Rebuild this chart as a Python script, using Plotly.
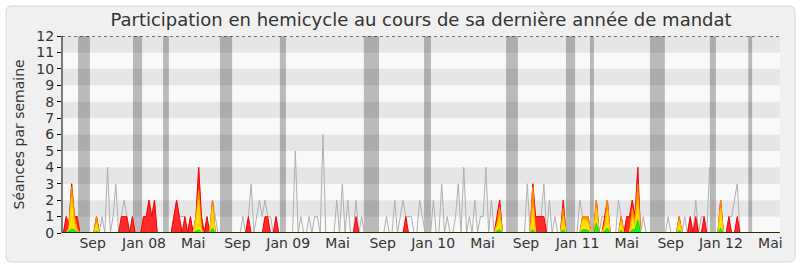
import plotly.graph_objects as go

# ---------------- data (weekly, 260 weeks of the legislature) ----------------
weeks = list(range(260))

# grey line: number of sessions in the week
seances = [
    0, 1, 0.5, 3, 1, 1, 0, 0, 0, 0, 0, 0, 1, 0, 1, 0, 4, 0, 1, 3,
    0, 1, 2, 1, 0, 1, 0, 0, 0, 1, 1, 2, 1, 2, 0, 0, 0, 0, 0, 0,
    1, 2, 1, 1, 1, 0, 1, 0, 1, 4, 1, 0, 1, 0, 2, 1, 0, 0, 0, 0,
    0, 0, 0, 0, 0, 1, 0, 1, 3, 0, 1, 2, 1, 2, 1, 1, 0, 1, 0, 0,
    0, 0, 0, 0, 5, 0, 1, 0, 0, 1, 0, 1, 1, 0, 6, 0, 0, 0, 0, 2,
    0, 3, 0, 2, 0, 0, 2, 0, 1, 0, 0, 0, 0, 0, 0, 0, 0, 1, 0, 0,
    2, 0, 1, 2, 1, 1, 1, 0, 0, 2, 1, 0, 0, 0, 2, 0, 0, 3, 0, 1,
    0, 0, 1, 3, 0, 4, 0, 1, 0, 2, 0, 1, 1, 4, 0, 2, 0, 1, 2, 0,
    0, 0, 0, 0, 0, 0, 0, 0, 3, 0, 3, 1, 1, 1, 3, 0, 2, 0, 1, 0,
    0, 2, 0, 0, 0, 0, 0, 2, 1, 1, 1, 0, 0, 2, 0, 1, 1, 2, 0, 0,
    0, 2, 1, 0, 1, 1, 2, 1, 4, 0, 1, 0, 0, 0, 0, 0, 0, 0, 0, 1,
    0, 0, 0, 1, 0, 1, 0, 1, 0, 2, 0, 1, 1, 0, 4, 0, 0, 0, 2, 0,
    0, 1, 1, 2, 3, 0, 0, 0, 0, 0, 0, 0, 0, 0, 0, 0, 0, 0, 0, 0,
]

# red area
presences = [
    0, 1, 0.5, 3, 1, 1, 0, 0, 0, 0, 0, 0, 1, 0, 0, 0, 0, 0, 0, 0,
    0, 1, 1, 1, 0, 1, 0, 0, 0, 1, 1, 2, 1, 2, 0, 0, 0, 0, 0, 0,
    1, 2, 1, 0, 1, 0, 1, 0, 1, 4, 1, 0, 1, 0, 2, 0, 0, 0, 0, 0,
    0, 0, 0, 0, 0, 0, 0, 1, 0, 0, 0, 0, 0, 1, 1, 0, 0, 1, 0, 0,
    0, 0, 0, 0, 0, 0, 0, 0, 0, 0, 0, 0, 0, 0, 0, 0, 0, 0, 0, 0,
    0, 0, 0, 0, 0, 0, 1, 0, 0, 0, 0, 0, 0, 0, 0, 0, 0, 0, 0, 0,
    0, 0, 0, 0, 1, 0, 0, 0, 0, 0, 0, 0, 0, 0, 0, 0, 0, 0, 0, 0,
    0, 0, 0, 0, 0, 0, 0, 0, 0, 0, 0, 0, 0, 0, 0, 0, 0, 1, 2, 0,
    0, 0, 0, 0, 0, 0, 0, 0, 0, 0, 3, 1, 1, 1, 1, 0, 0, 0, 0, 0,
    0, 2, 0, 0, 0, 0, 0, 0, 1, 1, 1, 0, 0, 2, 0, 0, 1, 2, 0, 0,
    0, 0, 1, 0, 1, 1, 2, 1, 4, 0, 0, 0, 0, 0, 0, 0, 0, 0, 0, 0,
    0, 0, 0, 1, 0, 0, 0, 1, 0, 1, 0, 0, 1, 0, 0, 0, 0, 0, 2, 0,
    0, 1, 0, 0, 1, 0, 0, 0, 0, 0, 0, 0, 0, 0, 0, 0, 0, 0, 0, 0,
]

# orange area
participations = [
    0, 0, 0.3, 2.8, 1, 0.3, 0, 0, 0, 0, 0, 0, 1, 0, 0, 0, 0, 0, 0, 0,
    0, 0, 0, 0, 0, 0, 0, 0, 0, 0, 0, 0, 0, 0, 0, 0, 0, 0, 0, 0,
    0, 0, 0, 0, 0, 0, 0, 0, 1, 2.6, 0.3, 0, 0, 0, 2, 0, 0, 0, 0, 0,
    0, 0, 0, 0, 0, 0, 0, 0, 0, 0, 0, 0, 0, 0, 0, 0, 0, 0, 0, 0,
    0, 0, 0, 0, 0, 0, 0, 0, 0, 0, 0, 0, 0, 0, 0, 0, 0, 0, 0, 0,
    0, 0, 0, 0, 0, 0, 0, 0, 0, 0, 0, 0, 0, 0, 0, 0, 0, 0, 0, 0,
    0, 0, 0, 0, 0, 0, 0, 0, 0, 0, 0, 0, 0, 0, 0, 0, 0, 0, 0, 0,
    0, 0, 0, 0, 0, 0, 0, 0, 0, 0, 0, 0, 0, 0, 0, 0, 0, 0.6, 1.6, 0,
    0, 0, 0, 0, 0, 0, 0, 0, 0, 0, 2.8, 0, 0, 0, 0, 0, 0, 0, 0, 0,
    0, 1.5, 0, 0, 0, 0, 0, 0, 1, 1, 1, 0, 0, 2, 0, 0, 0.6, 2, 0, 0,
    0, 0, 1, 0, 0, 0, 1.5, 0.8, 3, 0, 0, 0, 0, 0, 0, 0, 0, 0, 0, 0,
    0, 0, 0, 1, 0, 0, 0, 0, 0, 0, 0, 0, 0, 0, 0, 0, 0, 0, 2, 0,
    0, 0, 0, 0, 0, 0, 0, 0, 0, 0, 0, 0, 0, 0, 0, 0, 0, 0, 0, 0,
]

# yellow area
interventions = [
    0, 0, 0.2, 2.2, 0.6, 0, 0, 0, 0, 0, 0, 0, 0.6, 0, 0, 0, 0, 0, 0, 0,
    0, 0, 0, 0, 0, 0, 0, 0, 0, 0, 0, 0, 0, 0, 0, 0, 0, 0, 0, 0,
    0, 0, 0, 0, 0, 0, 0, 0, 0.8, 2, 0, 0, 0, 0, 1.6, 0, 0, 0, 0, 0,
    0, 0, 0, 0, 0, 0, 0, 0, 0, 0, 0, 0, 0, 0, 0, 0, 0, 0, 0, 0,
    0, 0, 0, 0, 0, 0, 0, 0, 0, 0, 0, 0, 0, 0, 0, 0, 0, 0, 0, 0,
    0, 0, 0, 0, 0, 0, 0, 0, 0, 0, 0, 0, 0, 0, 0, 0, 0, 0, 0, 0,
    0, 0, 0, 0, 0, 0, 0, 0, 0, 0, 0, 0, 0, 0, 0, 0, 0, 0, 0, 0,
    0, 0, 0, 0, 0, 0, 0, 0, 0, 0, 0, 0, 0, 0, 0, 0, 0, 0.4, 1.1, 0,
    0, 0, 0, 0, 0, 0, 0, 0, 0, 0, 1.5, 0, 0, 0, 0, 0, 0, 0, 0, 0,
    0, 1, 0, 0, 0, 0, 0, 0, 0.8, 0.8, 0.7, 0, 0, 1.5, 0, 0, 0.3, 1.4, 0, 0,
    0, 0, 0.7, 0, 0, 0, 1, 0.5, 2, 0, 0, 0, 0, 0, 0, 0, 0, 0, 0, 0,
    0, 0, 0, 0.7, 0, 0, 0, 0, 0, 0, 0, 0, 0, 0, 0, 0, 0, 0, 1.5, 0,
    0, 0, 0, 0, 0, 0, 0, 0, 0, 0, 0, 0, 0, 0, 0, 0, 0, 0, 0, 0,
]

# green area
questions = [
    0, 0, 0.1, 0.25, 0.2, 0, 0, 0, 0, 0, 0, 0, 0.1, 0, 0, 0, 0, 0, 0, 0,
    0, 0, 0, 0, 0, 0, 0, 0, 0, 0, 0, 0, 0, 0, 0, 0, 0, 0, 0, 0,
    0, 0, 0, 0, 0, 0, 0, 0, 0.1, 0.2, 0, 0, 0, 0, 0.3, 0, 0, 0, 0, 0,
    0, 0, 0, 0, 0, 0, 0, 0, 0, 0, 0, 0, 0, 0, 0, 0, 0, 0, 0, 0,
    0, 0, 0, 0, 0, 0, 0, 0, 0, 0, 0, 0, 0, 0, 0, 0, 0, 0, 0, 0,
    0, 0, 0, 0, 0, 0, 0, 0, 0, 0, 0, 0, 0, 0, 0, 0, 0, 0, 0, 0,
    0, 0, 0, 0, 0, 0, 0, 0, 0, 0, 0, 0, 0, 0, 0, 0, 0, 0, 0, 0,
    0, 0, 0, 0, 0, 0, 0, 0, 0, 0, 0, 0, 0, 0, 0, 0, 0, 0.1, 0.2, 0,
    0, 0, 0, 0, 0, 0, 0, 0, 0, 0, 0.2, 0, 0, 0, 0, 0, 0, 0, 0, 0,
    0, 0.2, 0, 0, 0, 0, 0, 0, 0.2, 0.2, 0.15, 0, 0, 0.6, 0, 0, 0.1, 0.3, 0, 0,
    0, 0, 0.15, 0, 0, 0, 0.2, 0.2, 0.8, 0, 0, 0, 0, 0, 0, 0, 0, 0, 0, 0,
    0, 0, 0, 0.15, 0, 0, 0, 0, 0, 0, 0, 0, 0, 0, 0, 0, 0, 0, 0.3, 0,
    0, 0, 0, 0, 0, 0, 0, 0, 0, 0, 0, 0, 0, 0, 0, 0, 0, 0, 0, 0,
]

tick_pos = [10.6, 29.2, 47.0, 63.0, 81.4, 99.3, 115.6, 133.9, 151.8, 167.5,
            186.2, 204.0, 219.9, 238.1, 256.0]
tick_labels = ["Sep", "Jan 08", "Mai", "Sep", "Jan 09", "Mai", "Sep", "Jan 10",
               "Mai", "Sep", "Jan 11", "Mai", "Sep", "Jan 12", "Mai"]

# parliamentary recess periods (week index start/end)
vacances_debut = [5.3, 25.2, 36.1, 56.7, 78.4, 108.8, 130.6, 160.3, 182.0, 190.7, 212.4, 234.1, 248.0]
vacances_fin = [9.6, 28.5, 38.2, 61.1, 80.6, 114.3, 133.1, 164.6, 185.3, 192.1, 217.8, 236.3, 249.4]

title = "Participation en hemicycle au cours de sa dernière année de mandat"
ytitle = "Séances par semaine"

# ---------------- layout geometry ----------------
W, H = 800, 267
ML, MR, MT, MB = 62, 20, 36, 34
PW = W - ML - MR
PH = H - MT - MB


def pp(px, py):
    return (px - ML) / PW, (H - MB - py) / PH


def rounded_path(x0, y0, x1, y1, r):
    def P(x, y):
        a, b = pp(x, y)
        return f"{a:.5f},{b:.5f}"
    s = f"M {P(x0 + r, y0)} L {P(x1 - r, y0)} Q {P(x1, y0)} {P(x1, y0 + r)} "
    s += f"L {P(x1, y1 - r)} Q {P(x1, y1)} {P(x1 - r, y1)} "
    s += f"L {P(x0 + r, y1)} Q {P(x0, y1)} {P(x0, y1 - r)} "
    s += f"L {P(x0, y0 + r)} Q {P(x0, y0)} {P(x0 + r, y0)} Z"
    return s


shapes = []
# outer rounded panel
shapes.append(dict(type="path", xref="paper", yref="paper", path=rounded_path(6, 6, 795, 262, 6),
                   fillcolor="#f0f0f0", line=dict(color="#d6d6d6", width=1), layer="below"))
# horizontal stripes
for i in range(12):
    shapes.append(dict(type="rect", xref="paper", yref="y", x0=0, x1=1, y0=i, y1=i + 1,
                       fillcolor="#e6e6e6" if i % 2 == 1 else "#f9f9f9",
                       line=dict(width=0), layer="below"))
# recess bands
for a, b in zip(vacances_debut, vacances_fin):
    shapes.append(dict(type="rect", xref="x", yref="paper", x0=a, x1=b, y0=0, y1=1,
                       fillcolor="rgba(0,0,0,0.25)", line=dict(width=0), layer="below"))
# dotted top line
shapes.append(dict(type="line", xref="paper", yref="y", x0=0, x1=1, y0=12, y1=12,
                   line=dict(color="black", width=1, dash="dot"), layer="above"))
# axis lines drawn over the traces
shapes.append(dict(type="line", xref="paper", yref="y", x0=0, x1=1, y0=0, y1=0,
                   line=dict(color="black", width=1.5), layer="above"))
shapes.append(dict(type="line", xref="paper", yref="y", x0=0, x1=0, y0=0, y1=12,
                   line=dict(color="black", width=1), layer="above"))

fig = go.Figure()
fig.add_trace(go.Scatter(x=weeks, y=seances, mode="lines",
                         line=dict(color="#b0b0b0", width=1), hoverinfo="skip"))
fig.add_trace(go.Scatter(x=weeks, y=presences, mode="lines", fill="tozeroy",
                         line=dict(color="#ff0000", width=1), fillcolor="rgba(255,20,20,0.9)"))
fig.add_trace(go.Scatter(x=weeks, y=participations, mode="lines", fill="tozeroy",
                         line=dict(color="#ff8c00", width=1), fillcolor="#ff9a00"))
fig.add_trace(go.Scatter(x=weeks, y=interventions, mode="lines", fill="tozeroy",
                         line=dict(color="#ffcc00", width=1), fillcolor="#ffe000"))
fig.add_trace(go.Scatter(x=weeks, y=questions, mode="lines", fill="tozeroy",
                         line=dict(color="#11dd11", width=1), fillcolor="#22ee22"))

fig.update_layout(
    width=W, height=H,
    margin=dict(l=ML, r=MR, t=MT, b=MB, pad=0),
    paper_bgcolor="white", plot_bgcolor="rgba(0,0,0,0)",
    showlegend=False,
    font=dict(family="DejaVu Sans", color="#333333"),
    title=dict(text=title, x=0.5, xref="paper", xanchor="center",
               y=1 - 20 / H, yref="container", yanchor="middle",
               font=dict(size=18, color="#333333")),
    shapes=shapes,
    annotations=[dict(text=ytitle, xref="paper", yref="paper", x=pp(18, 0)[0], y=0.5,
                      textangle=-90, showarrow=False, xanchor="center", yanchor="middle",
                      font=dict(size=14, color="#333333"))],
)
fig.update_xaxes(range=[-0.5, 259.5], tickmode="array", tickvals=tick_pos, ticktext=tick_labels,
                 showgrid=False, zeroline=False, showline=False,
                 ticks="", tickfont=dict(size=14, color="#333333"))
fig.update_yaxes(range=[0, 12], tickmode="array", tickvals=list(range(13)),
                 showgrid=False, zeroline=False, showline=False,
                 ticks="outside", ticklen=4, tickcolor="black",
                 tickfont=dict(size=14, color="#333333"))

fig.write_html("out.html")
